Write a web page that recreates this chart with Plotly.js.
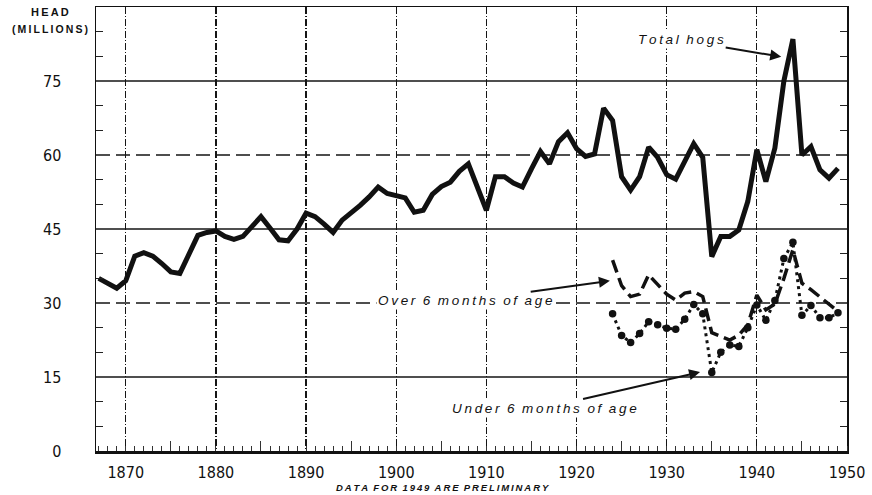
<!DOCTYPE html>
<html><head><meta charset="utf-8">
<script src="https://cdn.plot.ly/plotly-3.0.1.min.js"></script>
<style>html,body{margin:0;padding:0;background:#fff}#chart{width:872px;height:495px}</style>
</head><body><div id="chart"></div>
<script>
// ---- data (millions of head, January 1) ----
const totalYears = [1867,1868,1869,1870,1871,1872,1873,1874,1875,1876,1877,1878,1879,1880,1881,1882,1883,1884,1885,1886,1887,1888,1889,1890,1891,1892,1893,1894,1895,1896,1897,1898,1899,1900,1901,1902,1903,1904,1905,1906,1907,1908,1909,1910,1911,1912,1913,1914,1915,1916,1917,1918,1919,1920,1921,1922,1923,1924,1925,1926,1927,1928,1929,1930,1931,1932,1933,1934,1935,1936,1937,1938,1939,1940,1941,1942,1943,1944,1945,1946,1947,1948,1949];
const totalHogs = [35.0,34.0,33.0,34.5,39.5,40.2,39.5,38.0,36.3,36.0,40.0,43.7,44.3,44.6,43.5,42.9,43.5,45.6,47.5,45.2,42.8,42.6,45.0,48.2,47.5,46.0,44.3,46.8,48.2,49.8,51.5,53.5,52.2,51.8,51.3,48.4,48.8,52.0,53.6,54.5,56.7,58.2,53.5,48.8,55.6,55.6,54.3,53.5,57.2,60.7,58.2,62.7,64.5,61.3,59.7,60.2,69.5,67.0,55.6,52.9,55.6,61.6,59.5,56.0,55.1,58.7,62.3,59.5,39.4,43.5,43.5,44.8,50.6,61.1,54.6,61.4,75.0,83.5,60.0,61.7,57.0,55.3,57.3];
const ageYears = [1924,1925,1926,1927,1928,1929,1930,1931,1932,1933,1934,1935,1936,1937,1938,1939,1940,1941,1942,1943,1944,1945,1946,1947,1948,1949];
const over6 = [38.7,33.5,31.3,31.8,35.7,33.8,31.8,30.6,32.0,32.3,31.3,24.0,23.2,22.5,23.5,25.6,31.6,28.6,29.8,35.0,40.8,34.0,32.7,31.3,29.8,28.3];
const under6 = [27.8,23.4,22.0,23.8,26.2,25.6,24.9,24.7,26.7,29.7,27.8,15.9,20.0,21.5,21.2,25.0,29.6,26.5,30.5,39.0,42.3,27.5,29.5,27.0,27.0,28.0];
const xTicks = [1870,1880,1890,1900,1910,1920,1930,1940,1950];
const xTickText = ['1870','1880','1890','1900','1910','1920','1930','1940','1950'];
const yTicks = [0,15,30,45,60,75];
const yTickText = ['0','15','30','45','60','75'];
const fiveYearTicks = [1875,1885,1895,1905,1915,1925,1935,1945];
const yMinorTicks = [5,10,20,25,35,40,50,55,65,70,80,85];
const solidGrid = [15,45,75];
const dashedGrid = [30,60];

// letter-spaced text: thin spaces between letters, non-breaking spaces between words
const sp = s => s.split(' ').map(w => w.split('').join('\u2009')).join('\u00A0\u00A0');
const tickFont = {family:'"Liberation Sans Narrow","DejaVu Sans Condensed",Arial,sans-serif', size:16, color:'#111'};
const ink = '#111';

const traces = [
  {x: totalYears, y: totalHogs, type:'scatter', mode:'lines', line:{color:ink, width:5}, hoverinfo:'skip'},
  {x: ageYears, y: over6, type:'scatter', mode:'lines', line:{color:ink, width:3.5, dash:'13px,6px'}, hoverinfo:'skip'},
  {x: ageYears, y: under6, type:'scatter', mode:'lines+markers', line:{color:ink, width:3, dash:'3px,4px'}, marker:{color:ink, size:7.5}, hoverinfo:'skip'},
  {x: [], y: [], xaxis:'x2', type:'scatter', mode:'lines', hoverinfo:'skip'},
  {x: [], y: [], yaxis:'y2', type:'scatter', mode:'lines', hoverinfo:'skip'}
];

const shapes = [];
solidGrid.forEach(v => shapes.push({type:'line', xref:'paper', x0:0, x1:1, yref:'y', y0:v, y1:v, layer:'below', line:{color:'#151515', width:1.3}}));
dashedGrid.forEach(v => shapes.push({type:'line', xref:'paper', x0:0, x1:1, yref:'y', y0:v, y1:v, layer:'below', line:{color:'#151515', width:1.3, dash:'14px,6px'}}));

const annFont = {family:'"Liberation Sans",Arial,sans-serif', size:13.5, color:ink};
const layout = {
  width:872, height:495,
  margin:{l:96, r:25, t:7, b:44},
  paper_bgcolor:'#fff', plot_bgcolor:'#fff',
  showlegend:false,
  xaxis:{
    range:[1866.7, 1950], tickmode:'array', tickvals:xTicks, ticktext:xTickText,
    tickfont:tickFont, ticks:'', ticklabelstandoff:6,
    showgrid:true, gridcolor:'#151515', gridwidth:1.2, griddash:'7px,2px,1px,2px',
    showline:true, linecolor:ink, linewidth:1.5, mirror:true, zeroline:false,
    minor:{dtick:1, tick0:1870, ticks:'inside', ticklen:5, tickcolor:'#333', tickwidth:1, showgrid:false}
  },
  xaxis2:{
    overlaying:'x', anchor:'y', side:'bottom', range:[1866.7, 1950], matches:'x',
    tickmode:'array', tickvals:fiveYearTicks, ticks:'inside', ticklen:10, tickcolor:'#333', tickwidth:1,
    showticklabels:false, showgrid:false, zeroline:false, showline:true, linecolor:ink, linewidth:3
  },
  yaxis:{
    range:[0, 90], tickmode:'array', tickvals:yTicks, ticktext:yTickText,
    tickfont:tickFont, ticks:'', ticklabelstandoff:30,
    showgrid:false, zeroline:false,
    showline:true, linecolor:ink, linewidth:1.5, mirror:true,
    minor:{tickmode:'array', tickvals:yMinorTicks, ticks:'inside', ticklen:7, tickcolor:'#222', tickwidth:1.2, showgrid:false}
  },
  yaxis2:{
    overlaying:'y', anchor:'x', side:'right', range:[0, 90], matches:'y',
    tickmode:'array', tickvals:yMinorTicks, ticks:'inside', ticklen:7, tickcolor:'#222', tickwidth:1.2,
    showticklabels:false, showgrid:false, zeroline:false, showline:false
  },
  shapes: shapes,
  annotations:[
    {xref:'paper', yref:'paper', x:-0.0613, y:0.989, xanchor:'center', yanchor:'middle', text:'<b>'+sp('HEAD')+'</b>', showarrow:false, font:{family:'"Liberation Sans",Arial,sans-serif', size:11, color:ink}},
    {xref:'paper', yref:'paper', x:-0.0613, y:0.950, xanchor:'center', yanchor:'middle', text:'<b>'+sp('(MILLIONS)')+'</b>', showarrow:false, font:{family:'"Liberation Sans",Arial,sans-serif', size:10.5, color:ink}},
    {x:1942.7, y:79.9, xref:'x', yref:'y', text:'<i>'+sp('Total hogs')+'</i>', showarrow:true, ax:-100, ay:-17, arrowhead:2, arrowsize:1.1, arrowwidth:2, arrowcolor:ink, font:annFont, bgcolor:'#fff'},
    {x:1923.7, y:34.5, xref:'x', yref:'y', text:'<i>'+sp('Over 6 months of age')+'</i>', showarrow:true, ax:-144, ay:20, arrowhead:2, arrowsize:1.1, arrowwidth:2, arrowcolor:ink, font:annFont, bgcolor:'#fff'},
    {x:1933.7, y:16.0, xref:'x', yref:'y', text:'<i>'+sp('Under 6 months of age')+'</i>', showarrow:true, ax:-156, ay:36, arrowhead:2, arrowsize:1.1, arrowwidth:2, arrowcolor:ink, font:annFont, bgcolor:'#fff'},
    {xref:'paper', yref:'paper', x:(443-96)/751, y:(451-488)/444, xanchor:'center', yanchor:'middle', text:'<b><i>'+sp('DATA FOR 1949 ARE PRELIMINARY')+'</i></b>', showarrow:false, font:{family:'"Liberation Sans",Arial,sans-serif', size:9.5, color:ink}}
  ]
};
Plotly.newPlot('chart', traces, layout, {staticPlot:true, displayModeBar:false});
</script></body></html>
